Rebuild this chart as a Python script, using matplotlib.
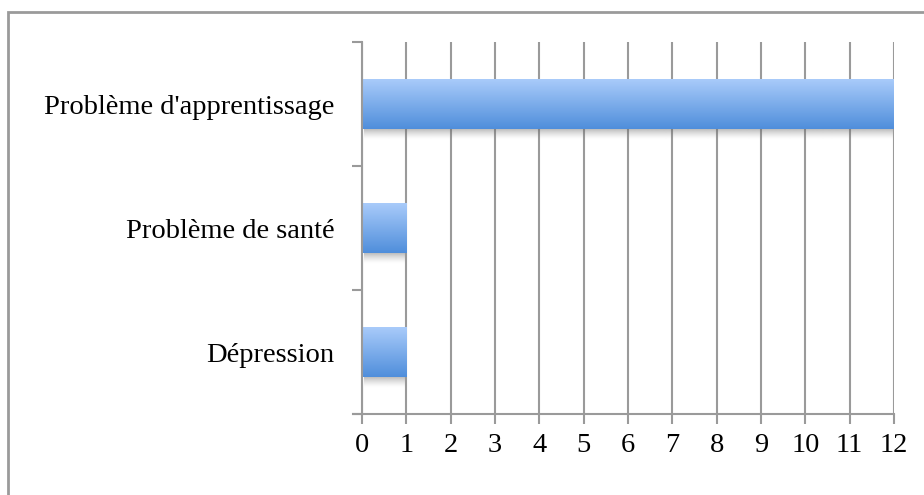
import matplotlib
matplotlib.use("Agg")
import matplotlib.pyplot as plt
import numpy as np
from matplotlib.colors import LinearSegmentedColormap
from matplotlib.lines import Line2D
from matplotlib.patches import Rectangle

categories = ["Dépression", "Problème de santé", "Problème d'apprentissage"]
values = [1, 1, 12]
xticks = list(range(0, 13))

plt.rcParams['font.family'] = ['Liberation Serif', 'DejaVu Serif']

fig = plt.figure(figsize=(9.24, 4.95), dpi=100)
ax = fig.add_axes([362/924, 1-414/495, 532/924, 372/495])

grid_c = '#9a9a9a'
bar_h = 0.4
ypos = np.arange(len(categories))

bars = ax.barh(ypos, values, height=bar_h, color='none', edgecolor='none', zorder=3)

cmap = LinearSegmentedColormap.from_list('g', ['#4f8edb', '#a9cbfa'])
grad = np.linspace(0, 1, 256).reshape(-1, 1)
shadow = np.linspace(0, 1, 64).reshape(-1, 1)
for b in bars:
    x0, y0 = b.get_x(), b.get_y()
    w, h = b.get_width(), b.get_height()
    sh = 0.09
    rgba = np.zeros((64, 1, 4))
    rgba[..., :3] = 0.4
    rgba[..., 3] = (shadow ** 1.5) * 0.5
    ax.imshow(rgba, extent=[x0 + 0.04, x0 + w - 0.04, y0 - sh, y0], origin='lower',
              aspect='auto', zorder=2.5, interpolation='bilinear')
    im = ax.imshow(grad, extent=[x0, x0 + w, y0, y0 + h], origin='lower', cmap=cmap,
                   aspect='auto', zorder=3, interpolation='bilinear')
    im.set_clip_path(b)

ax.set_xlim(0, 12)
ax.set_ylim(-0.5, len(categories) - 0.5)

ax.set_xticks(xticks)
ax.set_xticklabels([str(t) for t in xticks])
ax.set_yticks(np.arange(-0.5, len(categories), 1.0))
ax.set_yticklabels([])
ax.set_yticks(ypos, minor=True)
ax.set_yticklabels(categories, minor=True)

ax.tick_params(axis='y', which='major', length=7, width=1.5, color=grid_c, direction='out')
ax.tick_params(axis='y', which='minor', length=0, pad=20, labelsize=20.5)
ax.tick_params(axis='x', which='major', length=7, width=1.5, color=grid_c, direction='out',
               pad=7, labelsize=20.5)

ax.grid(axis='x', color=grid_c, linewidth=1.5, zorder=1)
ax.set_axisbelow(True)

for s in ['top', 'right']:
    ax.spines[s].set_visible(False)
for s in ['left', 'bottom']:
    ax.spines[s].set_color(grid_c)
    ax.spines[s].set_linewidth(1.5)
    ax.spines[s].set_zorder(4)

ax.add_line(Line2D([-9/532, 0], [0, 0], transform=ax.transAxes, color=grid_c,
                   linewidth=1.5, clip_on=False))

fig.patches.append(Rectangle((8/924, -0.05), 1.2, 1-12/495+0.05, transform=fig.transFigure,
                             fill=False, edgecolor='#9a9a9a', linewidth=2))

fig.savefig('out.png', dpi=100)
